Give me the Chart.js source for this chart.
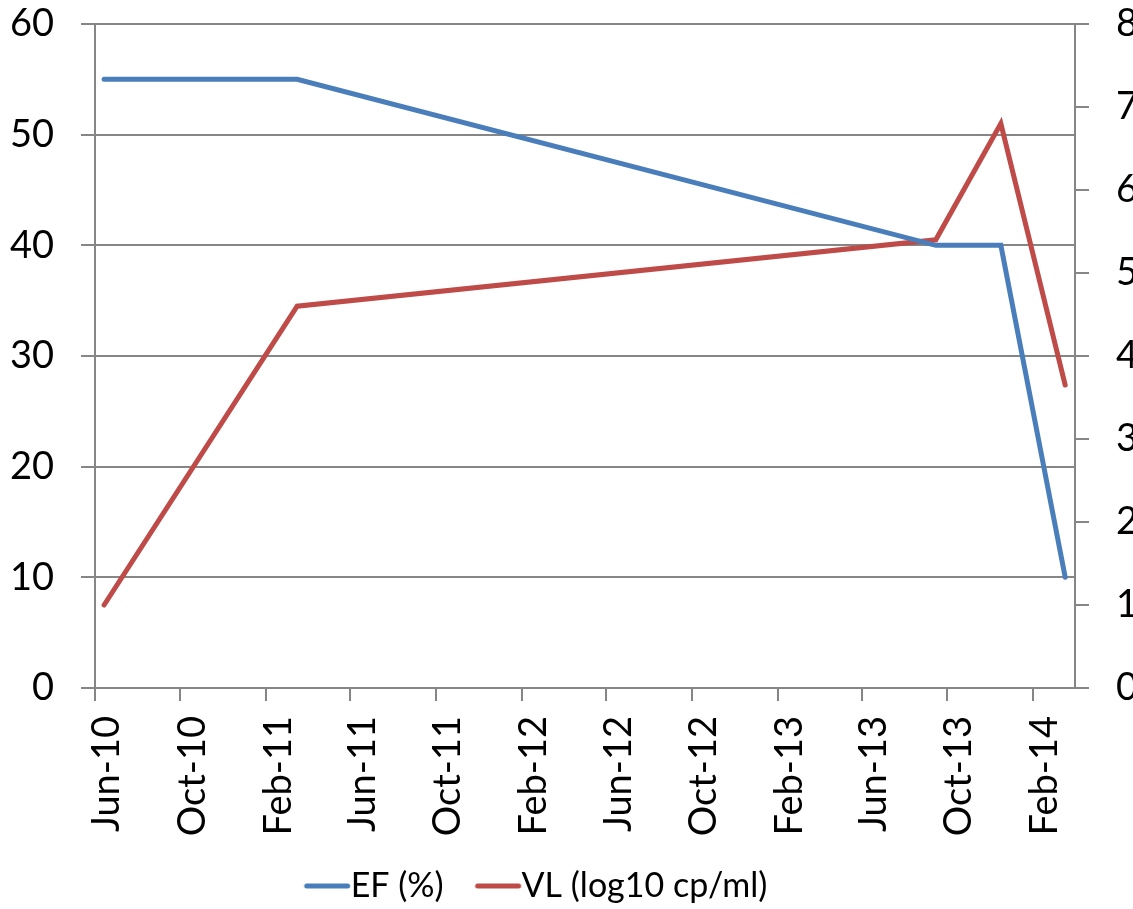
<!DOCTYPE html>
<html>
<head>
<meta charset="utf-8">
<title>EF and VL</title>
<script src="https://cdn.jsdelivr.net/npm/chart.js@4.4.1/dist/chart.umd.min.js"></script>
<style>
    html, body { margin: 0; padding: 0; background: #fff; overflow: hidden; }
    #chart { display: block; }
</style>
</head>
<body>
<canvas id="chart" width="1133" height="909"></canvas>
<script>
// Datos
const sampleDates = ['2010-06-14', '2011-03-17', '2013-09-15', '2013-12-17', '2014-03-19'];
const efValues = [55, 55, 40, 40, 10];
const vlValues = [1.0, 4.6, 5.4, 6.8, 3.65];

// Marcas del eje X (cada 4 meses)
const tickDates = ['2010-06-01', '2010-10-01', '2011-02-01', '2011-06-01', '2011-10-01', '2012-02-01',
                   '2012-06-01', '2012-10-01', '2013-02-01', '2013-06-01', '2013-10-01', '2014-02-01'];
const tickLabels = ['Jun-10', 'Oct-10', 'Feb-11', 'Jun-11', 'Oct-11', 'Feb-12',
                    'Jun-12', 'Oct-12', 'Feb-13', 'Jun-13', 'Oct-13', 'Feb-14'];
const axisStart = '2010-06-01';
const axisEnd = '2014-04-02';

// días desde el inicio del eje
function toDay(s) {
    return (Date.parse(s + 'T00:00:00Z') - Date.parse(axisStart + 'T00:00:00Z')) / 86400000;
}

const gridColor = '#868686';
const efColor = '#4A7EBB';
const vlColor = '#BE4B48';
const fontFamily = 'Lato, "Noto Sans", sans-serif';

// línea corta para la leyenda (pegada al texto, como en Excel)
function legendLine(color) {
    const c = document.createElement('canvas');
    c.width = 100;
    c.height = 10;
    const g = c.getContext('2d');
    g.strokeStyle = color;
    g.lineWidth = 5;
    g.lineCap = 'round';
    g.beginPath();
    g.moveTo(40, 5);
    g.lineTo(81, 5);
    g.stroke();
    return c;
}

// mover la leyenda un poco, como en el original
const legendShift = {
    id: 'legendShift',
    afterLayout(chart) {
        chart.legend.left -= 33;
        chart.legend.right -= 33;
        chart.legend.top += 4;
        chart.legend.bottom += 4;
    }
};

// sin relleno extra arriba/abajo en los ejes Y
function fixY(width) {
    return function(scale) {
        scale.width = width;
        scale.paddingTop = 0;
        scale.paddingBottom = 0;
    };
}

const ctx = document.getElementById('chart').getContext('2d');
const chart = new Chart(ctx, {
    type: 'line',
    data: {
        datasets: [{
            label: 'EF (%)',
            data: sampleDates.map((d, i) => ({ x: toDay(d), y: efValues[i] })),
            borderColor: efColor,
            backgroundColor: efColor,
            borderWidth: 5,
            borderCapStyle: 'round',
            pointRadius: 0,
            pointStyle: legendLine(efColor),
            tension: 0,
            yAxisID: 'y'
        }, {
            label: 'VL (log10 cp/ml)',
            data: sampleDates.map((d, i) => ({ x: toDay(d), y: vlValues[i] })),
            borderColor: vlColor,
            backgroundColor: vlColor,
            borderWidth: 5,
            borderCapStyle: 'round',
            pointRadius: 0,
            pointStyle: legendLine(vlColor),
            tension: 0,
            yAxisID: 'y1'
        }]
    },
    options: {
        responsive: false,
        animation: false,
        layout: {
            padding: { top: 24, bottom: 0, left: 0, right: 0 }
        },
        plugins: {
            tooltip: { enabled: false },
            legend: {
                position: 'bottom',
                labels: {
                    usePointStyle: true,
                    boxWidth: 45,
                    color: '#000',
                    padding: 27,
                    font: { family: fontFamily, size: 34 }
                }
            }
        },
        scales: {
            x: {
                type: 'linear',
                min: 0,
                max: toDay(axisEnd),
                afterBuildTicks: function(scale) {
                    scale.ticks = tickDates.map(d => ({ value: toDay(d) }));
                },
                afterFit: function(scale) {
                    scale.height = 150;
                },
                grid: {
                    drawOnChartArea: false,
                    color: gridColor,
                    lineWidth: 2,
                    tickLength: 13
                },
                border: { color: gridColor, width: 2 },
                ticks: {
                    autoSkip: false,
                    minRotation: 90,
                    maxRotation: 90,
                    padding: 15,
                    labelOffset: 12,
                    color: '#000',
                    font: { family: fontFamily, size: 38 },
                    callback: function(value, index) {
                        return tickLabels[index];
                    }
                }
            },
            y: {
                position: 'left',
                min: 0,
                max: 60,
                afterFit: fixY(95),
                grid: {
                    color: gridColor,
                    lineWidth: 2,
                    tickLength: 14
                },
                border: { color: gridColor, width: 2 },
                ticks: {
                    stepSize: 10,
                    padding: 27,
                    color: '#000',
                    font: { family: fontFamily, size: 38 }
                }
            },
            y1: {
                position: 'right',
                min: 0,
                max: 8,
                afterFit: fixY(58),
                grid: {
                    drawOnChartArea: false,
                    color: gridColor,
                    lineWidth: 2,
                    tickLength: 14
                },
                border: { color: gridColor, width: 2 },
                ticks: {
                    stepSize: 1,
                    padding: 27,
                    color: '#000',
                    font: { family: fontFamily, size: 38 }
                }
            }
        }
    },
    plugins: [legendShift]
});
</script>
</body>
</html>
